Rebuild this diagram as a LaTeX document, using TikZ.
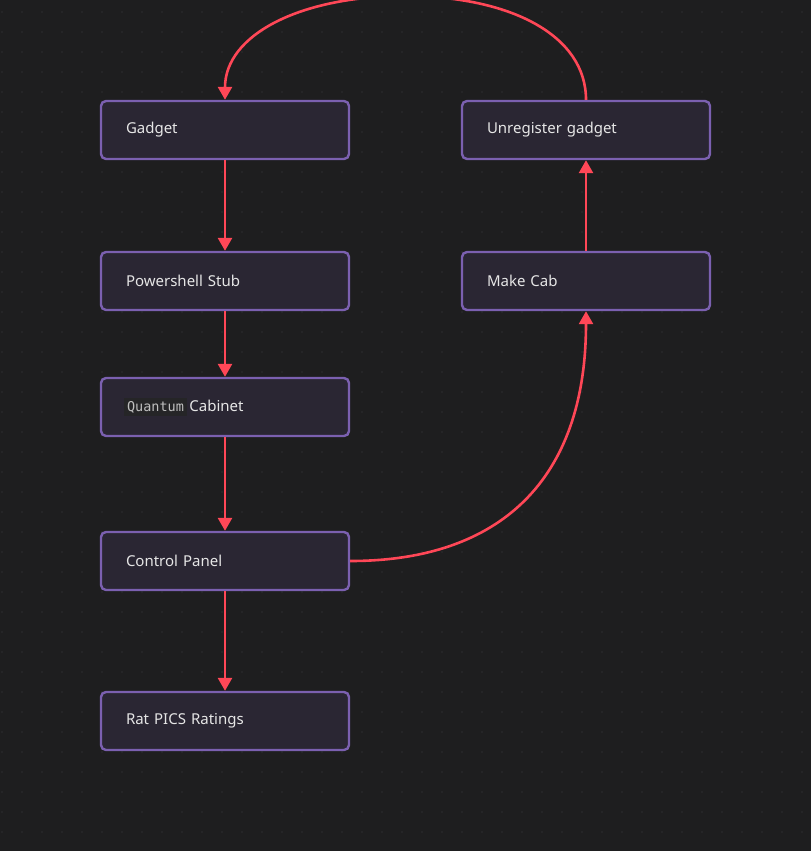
\documentclass[tikz,border=0pt]{standalone}
\usepackage{fontspec}
\setmainfont{Noto Sans}
\setmonofont{DejaVu Sans Mono}
\usetikzlibrary{arrows.meta}
\definecolor{bg}{HTML}{1E1E1F}
\definecolor{dotc}{HTML}{2E2E30}
\definecolor{boxfill}{HTML}{2A2633}
\definecolor{boxline}{HTML}{7B60B0}
\definecolor{arr}{HTML}{FF4757}
\definecolor{txt}{HTML}{E6E6E6}
\definecolor{codebg}{HTML}{252527}
\tikzset{
  box/.style={draw=boxline, line width=2.4pt, fill=boxfill, rounded corners=5pt,
    minimum width=248pt, minimum height=58pt, text=txt, font=\fontsize{15}{18}\selectfont,
    align=left, text width=198pt, inner xsep=25pt},
  link/.style={draw=arr, line width=2.6pt, -{Triangle[length=13pt,width=14pt]}}
}
\begin{document}
\begin{tikzpicture}[x=1pt,y=-1pt]
\fill[bg] (0,0) rectangle (811,851);
\useasboundingbox (0,0) rectangle (811,851);
\foreach \i in {0,...,40}{\foreach \j in {0,...,42}{\fill[dotc] (2+20*\i,12+20*\j) circle (0.9pt);}}
\node[box] (g) at (225,130) {Gadget};
\node[box] (p) at (225,281) {Powershell Stub};
\node[box] (q) at (225,407) {\hspace{-2pt}\colorbox{codebg}{\texttt{\color{black!25}\fontsize{13.5}{16}\selectfont Quantum}}\,Cabinet};
\node[box] (c) at (225,561) {Control Panel};
\node[box] (r) at (225,721) {Rat PICS Ratings};
\node[box] (u) at (586,130) {Unregister gadget};
\node[box] (m) at (586,281) {Make Cab};
\draw[link] (g) -- (p);
\draw[link] (p) -- (q);
\draw[link] (q) -- (c);
\draw[link] (c) -- (r);
\draw[link] (m) -- (u);
\draw[link] (c.east) .. controls (500,561) and (586,480) .. (m.south);
\draw[link] (u.north) .. controls (586,35) and (510,-4) .. (405,-4) .. controls (300,-4) and (225,35) .. (g.north);
\end{tikzpicture}
\end{document}
